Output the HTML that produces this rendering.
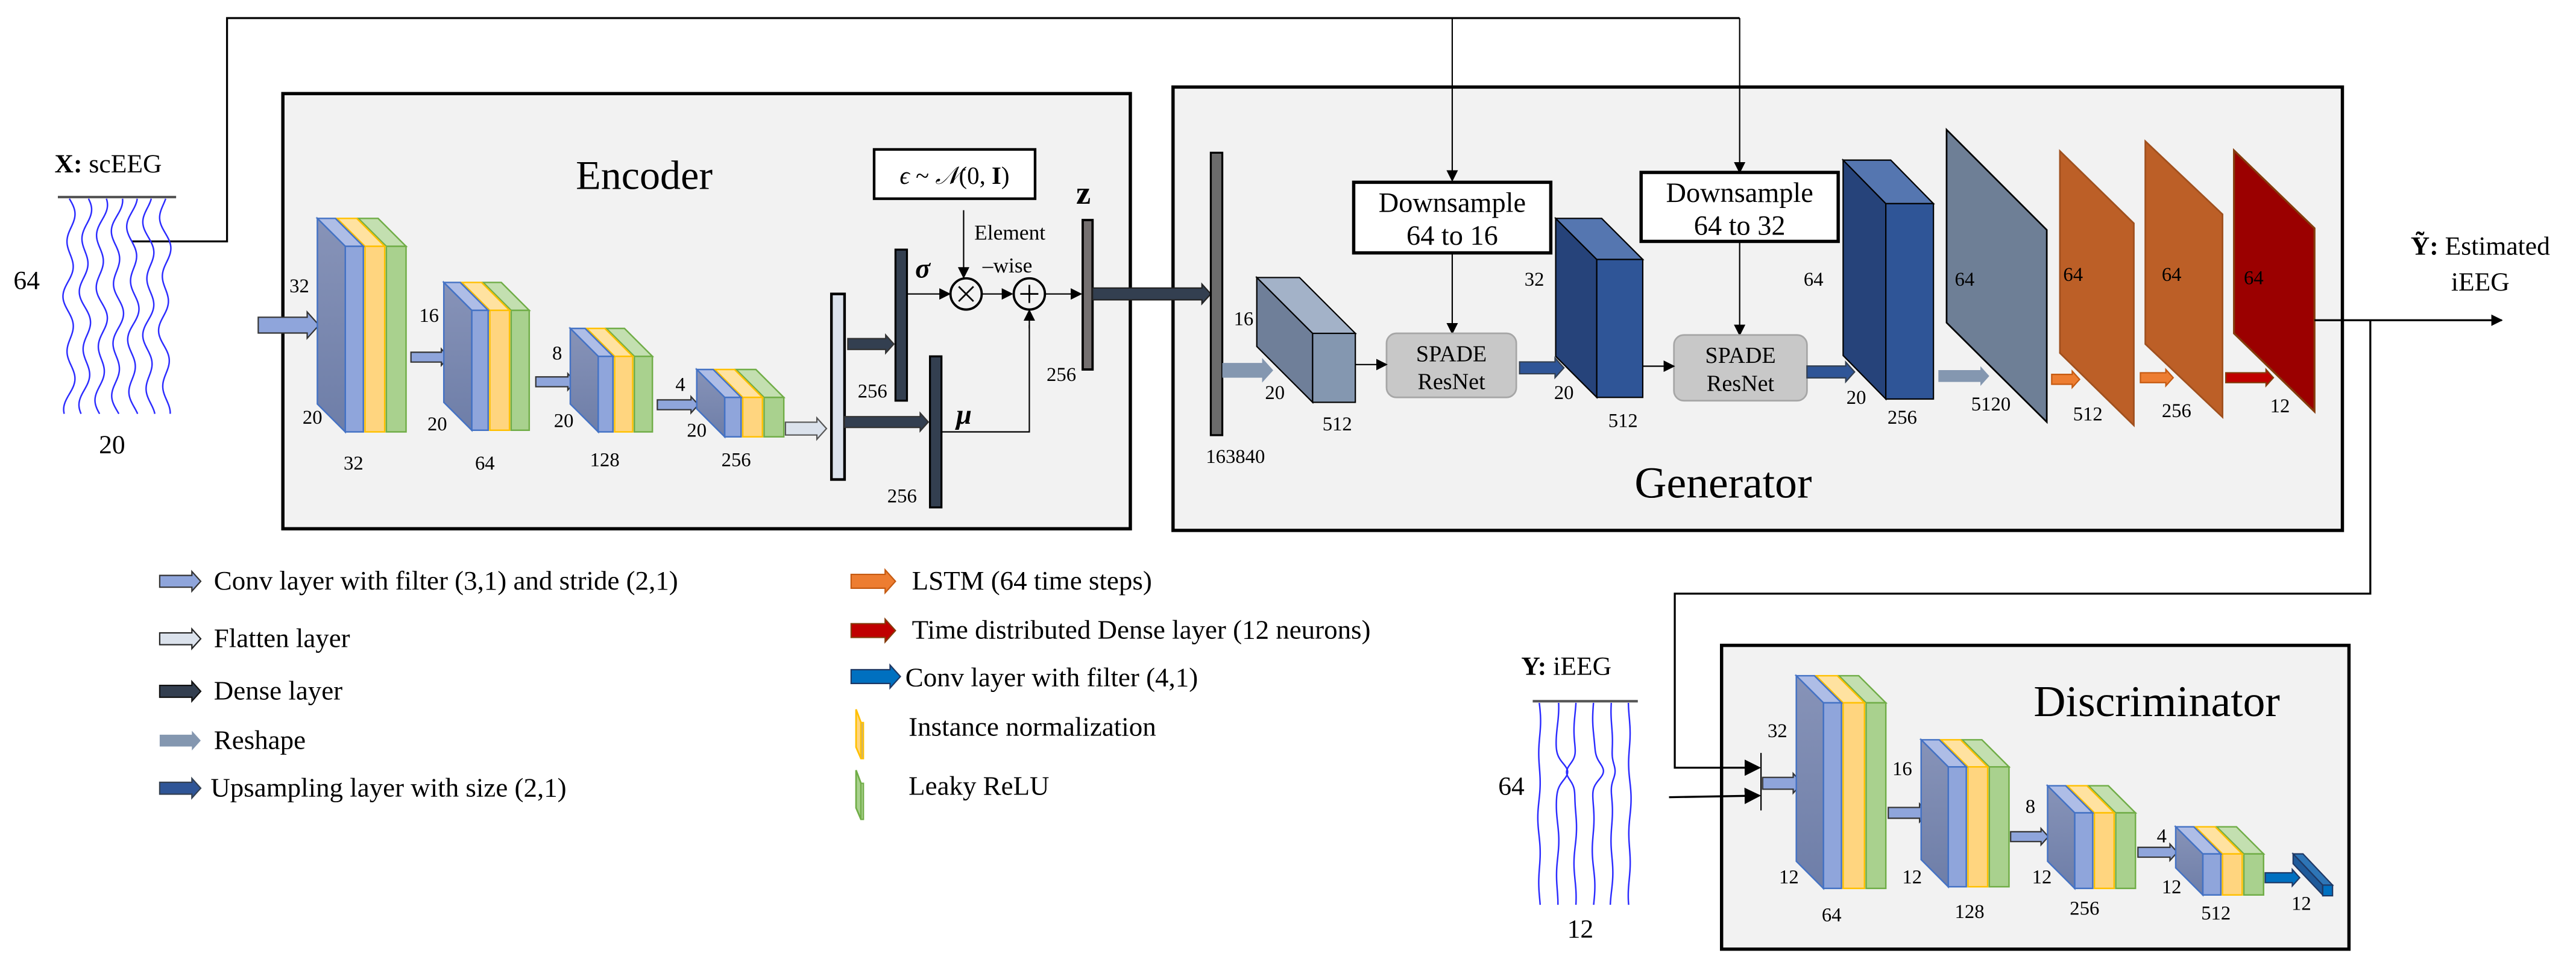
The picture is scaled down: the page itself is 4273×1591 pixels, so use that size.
<!DOCTYPE html>
<html><head><meta charset="utf-8">
<style>
html,body{margin:0;padding:0;background:#fff;}
svg{display:block;font-family:"Liberation Serif","Times New Roman",Times,"DejaVu Serif",serif;}
svg text{font-family:"Liberation Serif","Times New Roman",Times,"DejaVu Serif",serif;fill:#000;}
</style></head>
<body>
<svg id="s" xmlns="http://www.w3.org/2000/svg" width="4273" height="1591" viewBox="0 0 1568 584">
<defs>
<linearGradient id="side" x1="0" y1="0" x2="0" y2="1"><stop offset="0" stop-color="#8793b8"/><stop offset="1" stop-color="#6e7ea8"/></linearGradient>
<marker id="ah" viewBox="0 0 10 10" refX="9" refY="5" markerWidth="7" markerHeight="7" orient="auto" markerUnits="userSpaceOnUse"><path d="M0,0L10,5L0,10z" fill="#000"/></marker>
<marker id="ahb" viewBox="0 0 10 10" refX="9" refY="5" markerWidth="10" markerHeight="10" orient="auto" markerUnits="userSpaceOnUse"><path d="M0,0L10,5L0,10z" fill="#000"/></marker>
</defs>
<rect x="0" y="0" width="1568" height="584" fill="#fff"/>
<rect x="172" y="57" width="516" height="265" fill="#f2f2f2" stroke="#000" stroke-width="2"/>
<rect x="714" y="53" width="712" height="270" fill="#f2f2f2" stroke="#000" stroke-width="2"/>
<rect x="1048" y="393" width="382" height="185" fill="#f2f2f2" stroke="#000" stroke-width="2"/>

<polyline points="80,147 138,147 138,11 1059,11" fill="none" stroke="#000" stroke-width="1.2"/>
<line x1="884" y1="11" x2="884" y2="110" stroke="#000" stroke-width="0.8" marker-end="url(#ah)"/>
<line x1="1059" y1="11" x2="1059" y2="105" stroke="#000" stroke-width="0.8" marker-end="url(#ah)"/>
<line x1="884" y1="153" x2="884" y2="203" stroke="#000" stroke-width="0.8" marker-end="url(#ah)"/>
<line x1="1059" y1="147" x2="1059" y2="204" stroke="#000" stroke-width="0.8" marker-end="url(#ah)"/>

<rect x="824" y="111" width="120" height="43" fill="#fff" stroke="#000" stroke-width="2"/>
<text x="884" y="129" font-size="17" text-anchor="middle">Downsample</text>
<text x="884" y="149" font-size="17" text-anchor="middle">64 to 16</text>
<rect x="999" y="105" width="120" height="42" fill="#fff" stroke="#000" stroke-width="2"/>
<text x="1059" y="123" font-size="17" text-anchor="middle">Downsample</text>
<text x="1059" y="143" font-size="17" text-anchor="middle">64 to 32</text>

<rect x="844" y="203" width="79" height="39" rx="6" fill="#c8c8c8" stroke="#a6a6a6" stroke-width="1"/>
<text x="883.5" y="220" font-size="14" text-anchor="middle" fill="#222">SPADE</text>
<text x="883.5" y="237" font-size="14" text-anchor="middle" fill="#222">ResNet</text>
<rect x="1019" y="204" width="81" height="40" rx="6" fill="#c8c8c8" stroke="#a6a6a6" stroke-width="1"/>
<text x="1059.5" y="221" font-size="14" text-anchor="middle" fill="#222">SPADE</text>
<text x="1059.5" y="238" font-size="14" text-anchor="middle" fill="#222">ResNet</text>

<g id="dyn"></g>

<text x="392" y="115" font-size="25" text-anchor="middle">Encoder</text>
<text x="1049" y="303" font-size="27" text-anchor="middle">Generator</text>
<text x="1313" y="436" font-size="27" text-anchor="middle">Discriminator</text>

<text x="33" y="105" font-size="16"><tspan font-weight="bold">X:</tspan> scEEG</text>
<line x1="35" y1="120" x2="107" y2="120" stroke="#555" stroke-width="1.5"/>
<text x="8" y="176" font-size="16">64</text>
<text x="60" y="276" font-size="16">20</text>

<g font-size="12">
<text x="176" y="178">32</text><text x="184" y="258">20</text><text x="209" y="286">32</text>
<text x="255" y="196">16</text><text x="260" y="262">20</text><text x="289" y="286">64</text>
<text x="336" y="219">8</text><text x="337" y="260">20</text><text x="359" y="284">128</text>
<text x="411" y="238">4</text><text x="418" y="266">20</text><text x="439" y="284">256</text>
<text x="522" y="242">256</text><text x="540" y="306">256</text><text x="637" y="232">256</text>
</g>
<text x="557" y="169" font-size="17" font-style="italic" font-weight="bold">σ</text>
<text x="582" y="258" font-size="17" font-style="italic" font-weight="bold">μ</text>
<text x="655" y="124" font-size="20" font-weight="bold">z</text>
<text x="593" y="146" font-size="13">Element</text>
<text x="598" y="166" font-size="13">–wise</text>
<rect x="532" y="91" width="98" height="30" fill="#fff" stroke="#000" stroke-width="1.6"/>
<text x="581" y="112" font-size="15" text-anchor="middle"><tspan font-style="italic">ϵ</tspan> ~ <tspan font-style="italic">𝒩</tspan>(0, <tspan font-weight="bold">I</tspan>)</text>

<g font-size="12">
<text x="734" y="282">163840</text>
<text x="751" y="198">16</text><text x="770" y="243">20</text><text x="805" y="262">512</text>
<text x="928" y="174">32</text><text x="946" y="243">20</text><text x="979" y="260">512</text>
<text x="1098" y="174">64</text><text x="1124" y="246">20</text><text x="1149" y="258">256</text>
<text x="1190" y="174" fill="#111">64</text><text x="1200" y="250">5120</text>
<text x="1256" y="171">64</text><text x="1262" y="256">512</text>
<text x="1316" y="171">64</text><text x="1316" y="254">256</text>
<text x="1366" y="173">64</text><text x="1382" y="251">12</text>
</g>
<text x="1510" y="155" font-size="16" text-anchor="middle"><tspan font-weight="bold">Ỹ:</tspan> Estimated</text>
<text x="1510" y="177" font-size="16" text-anchor="middle">iEEG</text>

<line x1="1409" y1="195" x2="1523" y2="195" stroke="#000" stroke-width="1.2" marker-end="url(#ah)"/>
<polyline points="1443,195 1443,361.5 1019.5,361.5 1019.5,467.5 1071,467.5" fill="none" stroke="#000" stroke-width="1.2" marker-end="url(#ahb)"/>
<line x1="1016" y1="485.5" x2="1071" y2="484.5" stroke="#000" stroke-width="1.2" marker-end="url(#ahb)"/>
<line x1="1072" y1="458.5" x2="1072" y2="493.5" stroke="#000" stroke-width="0.8"/>

<text x="926" y="411" font-size="16"><tspan font-weight="bold">Y:</tspan> iEEG</text>
<line x1="933" y1="427" x2="997" y2="427" stroke="#555" stroke-width="1.5"/>
<text x="912" y="484" font-size="16">64</text>
<text x="954" y="571" font-size="16">12</text>

<g font-size="12">
<text x="1076" y="449">32</text><text x="1083" y="538">12</text><text x="1109" y="561">64</text>
<text x="1152" y="472">16</text><text x="1158" y="538">12</text><text x="1190" y="559">128</text>
<text x="1233" y="495">8</text><text x="1237" y="538">12</text><text x="1260" y="557">256</text>
<text x="1313" y="513">4</text><text x="1316" y="544">12</text><text x="1340" y="560">512</text>
<text x="1395" y="554">12</text>
</g>

<g font-size="16.5">
<text x="130" y="359">Conv layer with filter (3,1) and stride (2,1)</text>
<text x="130" y="394">Flatten layer</text>
<text x="130" y="426">Dense layer</text>
<text x="130" y="456">Reshape</text>
<text x="128" y="485">Upsampling layer with size (2,1)</text>
<text x="555" y="359">LSTM (64 time steps)</text>
<text x="555" y="389">Time distributed Dense layer (12 neurons)</text>
<text x="551" y="418">Conv layer with filter (4,1)</text>
<text x="553" y="448">Instance normalization</text>
<text x="553" y="484">Leaky ReLU</text>
</g>
</svg>
<script>
(function(){
var NS="http://www.w3.org/2000/svg",g=document.getElementById("dyn");
function el(t,a){var e=document.createElementNS(NS,t);for(var k in a)e.setAttribute(k,a[k]);g.appendChild(e);return e;}
function poly(p,f,s,w){return el("polygon",{points:p.map(function(q){return q.join(",")}).join(" "),fill:f,stroke:s||"none","stroke-width":w||1});}
function arrow(x1,x2,yc,h,f,s){var hl=Math.min(h*0.45,(x2-x1)*0.4);poly([[x1,yc-h*0.3],[x2-hl,yc-h*0.3],[x2-hl,yc-h/2],[x2,yc],[x2-hl,yc+h/2],[x2-hl,yc+h*0.3],[x1,yc+h*0.3]],f,s||"#333",0.8);}
function block(fx,t,b,d,ws){
 var cols=[["#8fa5db","#4472c4","#aebde6"],["#ffd57f","#ffc000","#ffe2a0"],["#a9d18e","#70ad47","#c3dfb0"]];
 var xs=[fx];xs.push(fx+ws[0]+1);xs.push(xs[1]+ws[1]+1);
 for(var i=2;i>=0;i--){var x=xs[i],w=ws[i],c=cols[i];
  poly([[x-d,t-d],[x-d+w,t-d],[x+w,t],[x,t]],c[2],c[1],0.9);
  el("rect",{x:x,y:t,width:w,height:b-t,fill:c[0],stroke:c[1],"stroke-width":0.9});
  if(i==0)poly([[x-d,t-d],[x,t],[x,b],[x-d,b-d]],"url(#side)","#4472c4",0.9);
 }}
function cube(bx,tb,fx,tf,r,b,cs,cf,ct){
 var w=r-fx;
 poly([[bx,tb],[fx,tf],[fx,b],[bx,b-(tf-tb)]],cs,"#000",0.8);
 poly([[bx,tb],[bx+w,tb],[r,tf],[fx,tf]],ct,"#000",0.8);
 el("rect",{x:fx,y:tf,width:w,height:b-tf,fill:cf,stroke:"#000","stroke-width":0.8});}
function sig(x,y0,y1,amp,per,ph,c,extra){var d="";for(var y=y0;y<=y1;y+=1){var xx=x+amp*Math.sin((y-y0)/per*2*Math.PI+ph)+amp*0.5*Math.sin((y-y0)/(per*0.37)+ph*2);if(extra)xx+=extra(y);d+=(d?"L":"M")+xx.toFixed(2)+","+y;}el("path",{d:d,fill:"none",stroke:c,"stroke-width":0.9});}
var LB="#8fa5db",FL="#dbe2ec",DN="#333f50",RS="#8497b0",UP="#2f5597";
for(var i=0;i<7;i++)sig(42+i*9.7,121,252,2.6,34,i*0.4,"#2b2bff");
for(var i=0;i<6;i++)sig(937+i*11,428,551,0.6,40,i,"#2b2bff",function(y){var k=(y-470)/7;return (i>=1&&i<=4)?6*Math.exp(-k*k)*(i==2?-1:1)*(i==4?0.5:1):0;});
arrow(157,194,198,16,LB);arrow(250,273,217.5,10,LB);arrow(326,350,232.5,10,LB);arrow(400,425,246.5,10,LB);
block(210,150,263,17,[11,12,12]);block(287,189,262,17,[10,12,11]);block(364,217,263,17,[9,11,11]);block(441,242,266,17,[10,12,12]);
arrow(478,503,261,13,FL,"#555");
el("rect",{x:506,y:179,width:8,height:113,fill:FL,stroke:"#000","stroke-width":1.6});
arrow(516,544,209.5,11,DN);arrow(514,565,257,11,DN);
el("rect",{x:545,y:152,width:7,height:92,fill:DN,stroke:"#000","stroke-width":1.2});
el("rect",{x:566,y:217,width:7,height:92,fill:DN,stroke:"#000","stroke-width":1.2});
el("rect",{x:659,y:134,width:6,height:91,fill:"#757070",stroke:"#000","stroke-width":1.4});
var L=function(a){var e=el("line",a);e.setAttribute("stroke","#000");e.setAttribute("stroke-width","0.8");e.setAttribute("marker-end","url(#ah)");};
L({x1:586.5,y1:128,x2:586.5,y2:169});L({x1:552,y1:179,x2:578,y2:179});L({x1:598,y1:179,x2:616,y2:179});L({x1:636,y1:179,x2:658,y2:179});
el("polyline",{points:"573,263 626.5,263 626.5,198",fill:"none",stroke:"#000","stroke-width":0.8});L({x1:626.5,y1:200,x2:626.5,y2:189});
el("circle",{cx:588,cy:179,r:9.5,fill:"#f2f2f2",stroke:"#000","stroke-width":1.4});
el("circle",{cx:626.5,cy:179,r:9.5,fill:"#f2f2f2",stroke:"#000","stroke-width":1.4});
el("path",{d:"M583.5,174.5l9,9m0,-9l-9,9M621,179h11M626.5,173.5v11",stroke:"#000","stroke-width":1,fill:"none"});
arrow(665,737,179,12,DN,"#222");
el("rect",{x:737,y:93,width:7,height:172,fill:"#6b6b6b",stroke:"#000","stroke-width":1.2});
arrow(744,775,225.5,15,RS,"none");
cube(765,169,799,203,825,245,"#6f7f99","#8497b0","#a3b2c8");
L({x1:825,y1:222,x2:844,y2:222});
arrow(925,952,224,12,UP,"#333f50");
cube(947,133,972,158,1000,242,"#26437a","#2f5597","#5576b0");
L({x1:1000,y1:223,x2:1019,y2:223});
arrow(1100,1129,226.5,12,UP,"#333f50");
cube(1122,97.5,1148,124,1177,243,"#26437a","#2f5597","#5576b0");
arrow(1180,1211,229,12,RS,"none");
poly([[1185,79],[1246,140],[1246,257],[1185,196.5]],"#6e7f96","#000",1);
arrow(1249,1266,231,10,"#ed7d31","#c55a11");
poly([[1254,92],[1299,136],[1299,259],[1254,215]],"#bc5f27","#a0501e",1);
arrow(1303,1323,230,10,"#ed7d31","#c55a11");
poly([[1306,86],[1353,130.5],[1353,254],[1306,209.5]],"#bc5f27","#a0501e",1);
arrow(1355,1384,230,10,"#c00000","#843c0c");
poly([[1360,91.6],[1409,139],[1409,250.6],[1360,203]],"#9b0000","#843c0c",1.2);
arrow(1073,1097,477,12,LB);
block(1110,428,541,16.5,[11,13,12]);
arrow(1149.5,1173.5,495,11,LB);
block(1186,467,540,16.5,[11,12,12]);
arrow(1224,1247,509.5,10,LB);
block(1263,495,541,16.5,[11,12,12]);
arrow(1301.5,1325.5,519,10,LB);
block(1341,520,545,16.5,[11,12,12]);
arrow(1379,1400,534.5,10,"#0070c0","#1f3864");
poly([[1396,520],[1402,520],[1420,539],[1414,539]],"#2e75b6","#1f3864",0.8);
poly([[1396,520],[1414,539],[1414,545],[1396,526]],"#1f5a9a","#1f3864",0.8);
el("rect",{x:1414,y:539,width:6,height:6.5,fill:"#0070c0",stroke:"#1f3864","stroke-width":0.8});
arrow(97,122,354,12,LB);arrow(97,122,389,12,FL,"#222");arrow(97,122,421,12,DN,"#111");
arrow(97,122,451,12,RS,"none");arrow(97,122,480,12,UP,"#333f50");
arrow(518,545,354,14,"#ed7d31","#c55a11");arrow(518,545,384,14,"#c00000","#843c0c");arrow(518,548,412,14,"#0070c0","#1f3864");
poly([[521,432],[524,440],[524,462],[521,455]],"#ffd57f","#ffc000",1);el("rect",{x:524,y:440,width:1.5,height:22,fill:"#c9b27a",stroke:"#ffc000","stroke-width":0.8});
poly([[521,469],[524,477],[524,499],[521,492]],"#a9d18e","#70ad47",1);el("rect",{x:524,y:477,width:1.5,height:22,fill:"#a9d18e",stroke:"#70ad47","stroke-width":0.8});
})();
</script>
</body></html>
